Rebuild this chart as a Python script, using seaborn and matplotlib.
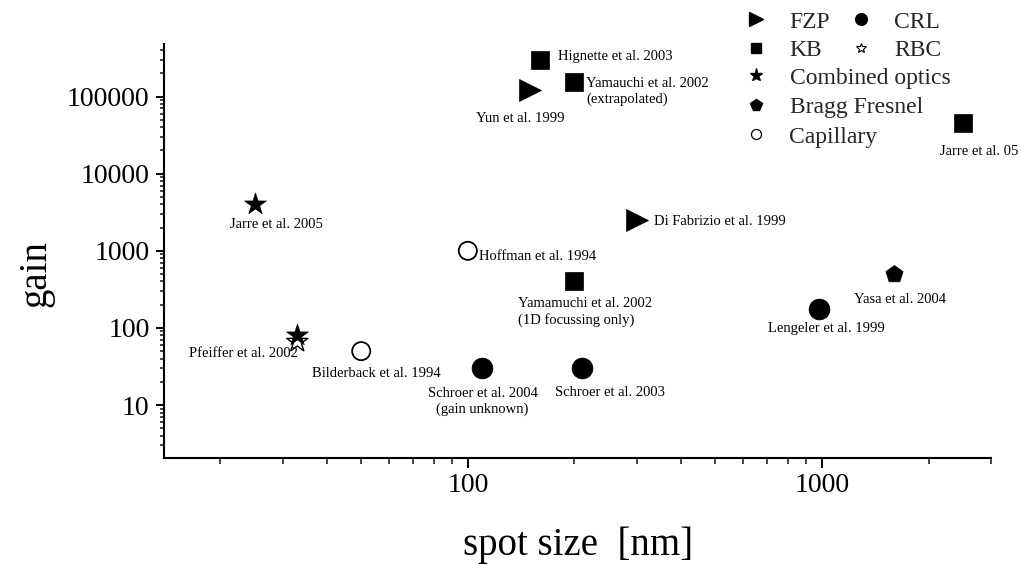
import matplotlib
matplotlib.use("Agg")
import matplotlib.pyplot as plt
from matplotlib.lines import Line2D
from matplotlib.ticker import LogLocator, NullFormatter
import seaborn as sns
import pandas as pd
import numpy as np

# ---------------- data ----------------
groups = ["FZP", "FZP", "KB", "KB", "KB", "KB", "CRL", "CRL", "CRL",
          "RBC", "Combined optics", "Combined optics", "Bragg Fresnel",
          "Capillary", "Capillary"]
spot_nm = [150, 300, 160, 200, 200, 2500, 110, 210, 980,
           33, 25, 33, 1600, 50, 100]
gain = [120000, 2500, 300000, 155000, 400, 45000, 30, 30, 175,
        66, 4000, 80, 500, 50, 1000]
labels = ["Yun et al. 1999", "Di Fabrizio et al. 1999", "Hignette et al. 2003",
          "Yamauchi et al. 2002\n(extrapolated)",
          "Yamamuchi et al. 2002\n(1D focussing only)", "Jarre et al. 05",
          "Schroer et al. 2004\n(gain unknown)", "Schroer et al. 2003",
          "Lengeler et al. 1999", "", "Jarre et al. 2005",
          "Pfeiffer et al. 2002", "Yasa et al. 2004",
          "Bilderback et al. 1994", "Hoffman et al. 1994"]
x_ticks = [100, 1000]
x_tick_labels = ["100", "1000"]
y_ticks = [10, 100, 1000, 10000, 100000]
y_tick_labels = ["10", "100", "1000", "10000", "100000"]
legend_col1 = ["FZP", "KB", "CRL", "RBC"]
legend_col2 = ["Combined optics", "Bragg Fresnel", "Capillary"]

# ---------------- style / layout ----------------
# label offsets in pixels: (dx, dy downward, ha)
label_offsets = [(-10, 28, "center"), (17.6, 1.5, "left"), (17.7, -3, "left"),
                 (11.6, 9.7, "left"), (-56.4, 30.4, "left"), (16, 28.6, "center"),
                 (0, 33, "center"), (28, 24, "center"), (7, 19.7, "center"),
                 (0, 0, "center"), (21.6, 20.5, "center"), (1, 17.8, "right"),
                 (5.7, 25, "center"), (14.8, 22.8, "center"), (11.6, 5.8, "left")]
marker_style = {
    "FZP": dict(marker=">", s=250, facecolor="black"),
    "KB": dict(marker="s", s=182, facecolor="black"),
    "CRL": dict(marker="o", s=225, facecolor="black"),
    "RBC": dict(marker="*", s=256, facecolor="none", linewidth=1.0),
    "Combined optics": dict(marker="*", s=270, facecolor="black"),
    "Bragg Fresnel": dict(marker="p", s=170, facecolor="black"),
    "Capillary": dict(marker="o", s=170, facecolor="none", linewidth=1.3),
}
legend_handle_style = {
    "FZP": dict(marker=">", ms=9.5, mfc="black"),
    "KB": dict(marker="s", ms=7.7, mfc="black"),
    "CRL": dict(marker="o", ms=8.4, mfc="black"),
    "RBC": dict(marker="*", ms=7.5, mfc="none", mew=0.8),
    "Combined optics": dict(marker="*", ms=9.5, mfc="black"),
    "Bragg Fresnel": dict(marker="p", ms=8.5, mfc="black"),
    "Capillary": dict(marker="o", ms=7.2, mfc="none", mew=0.9),
}

sns.set_style("ticks")
plt.rcParams["font.family"] = ["Liberation Serif", "DejaVu Serif"]

df = pd.DataFrame({"group": groups, "spot": spot_nm, "gain": gain, "label": labels})

W, H = 1021, 565
fig = plt.figure(figsize=(W / 100, H / 100), dpi=100)
ax_l, ax_r, ax_t, ax_b = 164.3, 991.0, 44.0, 458.3
ax = fig.add_axes([ax_l / W, 1 - ax_b / H, (ax_r - ax_l) / W, (ax_b - ax_t) / H])

for g in ["RBC", "FZP", "KB", "CRL", "Combined optics", "Bragg Fresnel", "Capillary"]:
    sub = df[df["group"] == g]
    st = dict(marker_style[g])
    lw = st.pop("linewidth", 0.5)
    sns.scatterplot(data=sub, x="spot", y="gain", ax=ax, legend=False,
                    edgecolor="black", linewidth=lw, zorder=3, **st)

ax.set_xscale("log")
ax.set_yscale("log")
ax.set_xlim(13.9, 3000)
ax.set_ylim(2.04, 480000)

for i, row in df.iterrows():
    if not row["label"]:
        continue
    dx, dy, ha = label_offsets[i]
    ax.annotate(row["label"], xy=(row["spot"], row["gain"]), xytext=(dx, -dy),
                textcoords="offset pixels", ha=ha, va="center",
                multialignment=ha, fontsize=10.5, linespacing=1.25,
                color="black", zorder=4)

ax.set_xticks(x_ticks)
ax.set_xticklabels(x_tick_labels)
ax.set_yticks(y_ticks)
ax.set_yticklabels(y_tick_labels)
ax.xaxis.set_minor_locator(LogLocator(base=10, subs=np.arange(2, 10)))
ax.yaxis.set_minor_locator(LogLocator(base=10, subs=np.arange(2, 10)))
ax.xaxis.set_minor_formatter(NullFormatter())
ax.yaxis.set_minor_formatter(NullFormatter())
ax.tick_params(axis="both", which="major", labelsize=20, width=1.4, color="black",
               labelcolor="black", direction="out")
ax.tick_params(axis="x", which="major", length=7, pad=3.5)
ax.tick_params(axis="y", which="major", length=6, pad=4.5)
ax.tick_params(axis="x", which="minor", length=4, width=1.2)
ax.tick_params(axis="y", which="minor", length=3, width=1.2)

for sp in ["top", "right"]:
    ax.spines[sp].set_visible(False)
for sp in ["left", "bottom"]:
    ax.spines[sp].set_linewidth(1.5)
    ax.spines[sp].set_color("black")

ax.set_xlabel("spot size  [nm]", fontsize=28, color="black")
ax.set_ylabel("gain", fontsize=28, color="black")
ax.xaxis.label.set_va("center")
ax.xaxis.set_label_coords(0.501, -0.209)
ax.yaxis.label.set_va("center")
ax.yaxis.set_label_coords(-0.155, 0.447)

def handles(names):
    return [Line2D([], [], ls="none", color="black", mec="black",
                   **legend_handle_style[n]) for n in names]

leg_kw = dict(frameon=False, fontsize=17, handlelength=0.8, handletextpad=1.0,
              borderpad=0, borderaxespad=0, loc="upper left")
fig.legend(handles(legend_col1), legend_col1, ncol=2, columnspacing=0.92,
           labelspacing=0.29, bbox_to_anchor=(747 / W, 1 - 11 / H), **leg_kw)
fig.legend(handles(legend_col2), legend_col2, ncol=1, labelspacing=0.34,
           bbox_to_anchor=(747 / W, 1 - 67 / H), **leg_kw)

fig.savefig("out.png", dpi=100, facecolor="white")
